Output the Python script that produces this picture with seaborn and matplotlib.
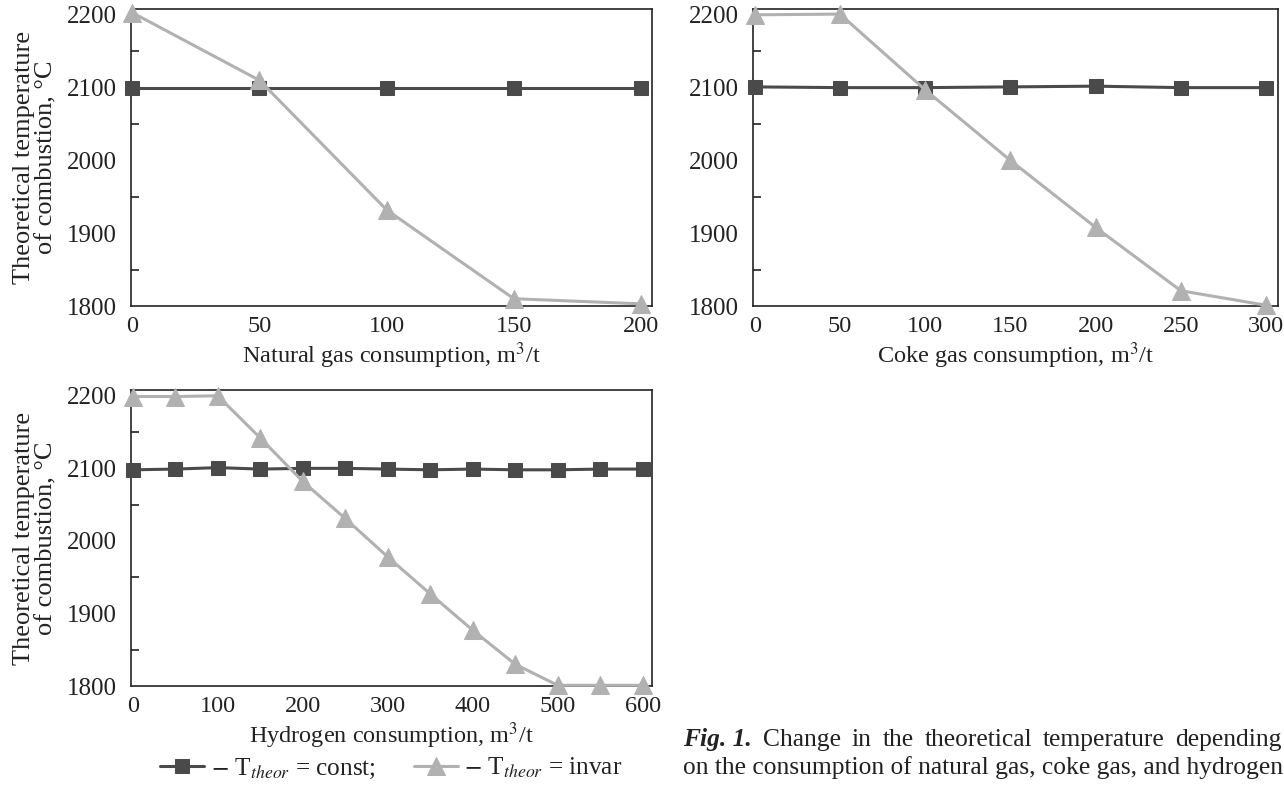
import matplotlib
matplotlib.use("Agg")
import matplotlib.pyplot as plt
import seaborn as sns
import numpy as np

# data
ng_x = [0, 50, 100, 150, 200]
ng_const = [2100, 2100, 2100, 2100, 2100]
ng_invar = [2203, 2110, 1932, 1810, 1803]

coke_x = [0, 50, 100, 150, 200, 250, 300]
coke_const = [2101, 2100, 2100, 2101, 2102, 2100, 2100]
coke_invar = [2200, 2201, 2097, 2000, 1908, 1821, 1801]

h2_x = [0, 50, 100, 150, 200, 250, 300, 350, 400, 450, 500, 550, 600]
h2_const = [2098, 2099, 2101, 2099, 2100, 2100, 2099, 2098, 2099, 2098, 2098, 2099, 2099]
h2_invar = [2199, 2199, 2200, 2142, 2082, 2031, 1978, 1927, 1877, 1830, 1801, 1801, 1801]

y_ticks = [1800, 1900, 2000, 2100, 2200]
ylabel = "Theoretical temperature\nof combustion, °C"
legend_labels = [r"$-$ T$_{theor}$ = const;", r"$-$ T$_{theor}$ = invar"]
caption_head = "Fig. 1."
caption_line1 = "Change in the theoretical temperature depending"
caption_line2 = "on the consumption of natural gas, coke gas, and hydrogen"

DARK = "#4a4a4a"
LIGHT = "#b1b1b1"
INK = "#222222"

sns.set_style("white")
plt.rcParams["font.family"] = ["Liberation Serif", "DejaVu Serif"]
plt.rcParams["mathtext.fontset"] = "stix"
plt.rcParams["font.size"] = 17

W, H = 1284, 797
fig = plt.figure(figsize=(W / 100, H / 100), dpi=100)


def px_axes(left, top, right, bottom):
    return fig.add_axes([left / W, 1 - bottom / H, (right - left) / W, (bottom - top) / H])


def draw(ax, x, const, invar, xlim, xticks, xlabel, show_ylabel):
    sns.lineplot(x=x, y=const, ax=ax, color=DARK, marker="s", markersize=10.5,
                 mec=DARK, mfc=DARK, linewidth=2.2, legend=False, label=legend_labels[0],
                 clip_on=False, zorder=3)
    sns.lineplot(x=x, y=invar, ax=ax, color=LIGHT, marker="^", markersize=13,
                 mec=LIGHT, mfc=LIGHT, linewidth=2.2, legend=False, label=legend_labels[1],
                 clip_on=False, zorder=4)
    if ax.get_legend() is not None:
        ax.get_legend().remove()
    ax.set_xlim(*xlim)
    ax.set_ylim(1800, 2208)
    ax.set_xticks(xticks)
    ax.set_yticks(y_ticks)
    ax.set_yticks(np.arange(1850, 2200, 100), minor=True)
    ax.tick_params(axis="x", length=0, pad=7, labelsize=17.5, colors=INK)
    ax.tick_params(axis="y", which="major", length=0, pad=10, labelsize=18, colors=INK)
    ax.tick_params(axis="y", which="minor", direction="in", length=6, width=1.2,
                   color=INK, left=True)
    for s in ax.spines.values():
        s.set_color(INK)
        s.set_linewidth(1.2)
    ax.set_xlabel(xlabel, fontsize=17.5, labelpad=3, color=INK)
    if show_ylabel:
        ax.set_ylabel(ylabel, fontsize=19, labelpad=7, linespacing=1.05, color=INK)
    else:
        ax.set_ylabel("")


ax1 = px_axes(131, 9, 652, 306)
draw(ax1, ng_x, ng_const, ng_invar, (-0.5, 204.3), [0, 50, 100, 150, 200],
     "Natural gas consumption, m$^3$/t", True)

ax2 = px_axes(753, 9, 1278, 306)
draw(ax2, coke_x, coke_const, coke_invar, (-1, 307), [0, 50, 100, 150, 200, 250, 300],
     "Coke gas consumption, m$^3$/t", False)

ax3 = px_axes(131, 390, 652, 686)
draw(ax3, h2_x, h2_const, h2_invar, (-2, 611), [0, 100, 200, 300, 400, 500, 600],
     "Hydrogen consumption, m$^3$/t", True)

handles, labels = ax1.get_legend_handles_labels()
leg = fig.legend(handles, labels, loc="center left", bbox_to_anchor=(150 / W, 1 - 768 / H),
                 ncol=2, frameon=False, handlelength=1.75, handletextpad=0.25,
                 columnspacing=1.5, fontsize=18.2, borderaxespad=0)
for t in leg.get_texts():
    t.set_color(INK)

# caption, first line justified word by word between x=683 and x=1282
cap_left, cap_right, cap_size = 683, 1282, 18.4
renderer = fig.canvas.get_renderer()
pieces = [fig.text(0, 1 - 746 / H, caption_head, fontsize=cap_size, fontweight="bold",
                   fontstyle="italic", va="baseline", color=INK)]
for word in caption_line1.split():
    pieces.append(fig.text(0, 1 - 746 / H, word, fontsize=cap_size, va="baseline", color=INK))
widths = [p.get_window_extent(renderer).width for p in pieces]
gap = (cap_right - cap_left - sum(widths)) / (len(pieces) - 1)
xpos = cap_left
for p, w in zip(pieces, widths):
    p.set_x(xpos / W)
    xpos += w + gap
fig.text(cap_left / W, 1 - 774 / H, caption_line2,
         fontsize=cap_size, va="baseline", ha="left", color=INK)

fig.savefig("out.png", dpi=100)
